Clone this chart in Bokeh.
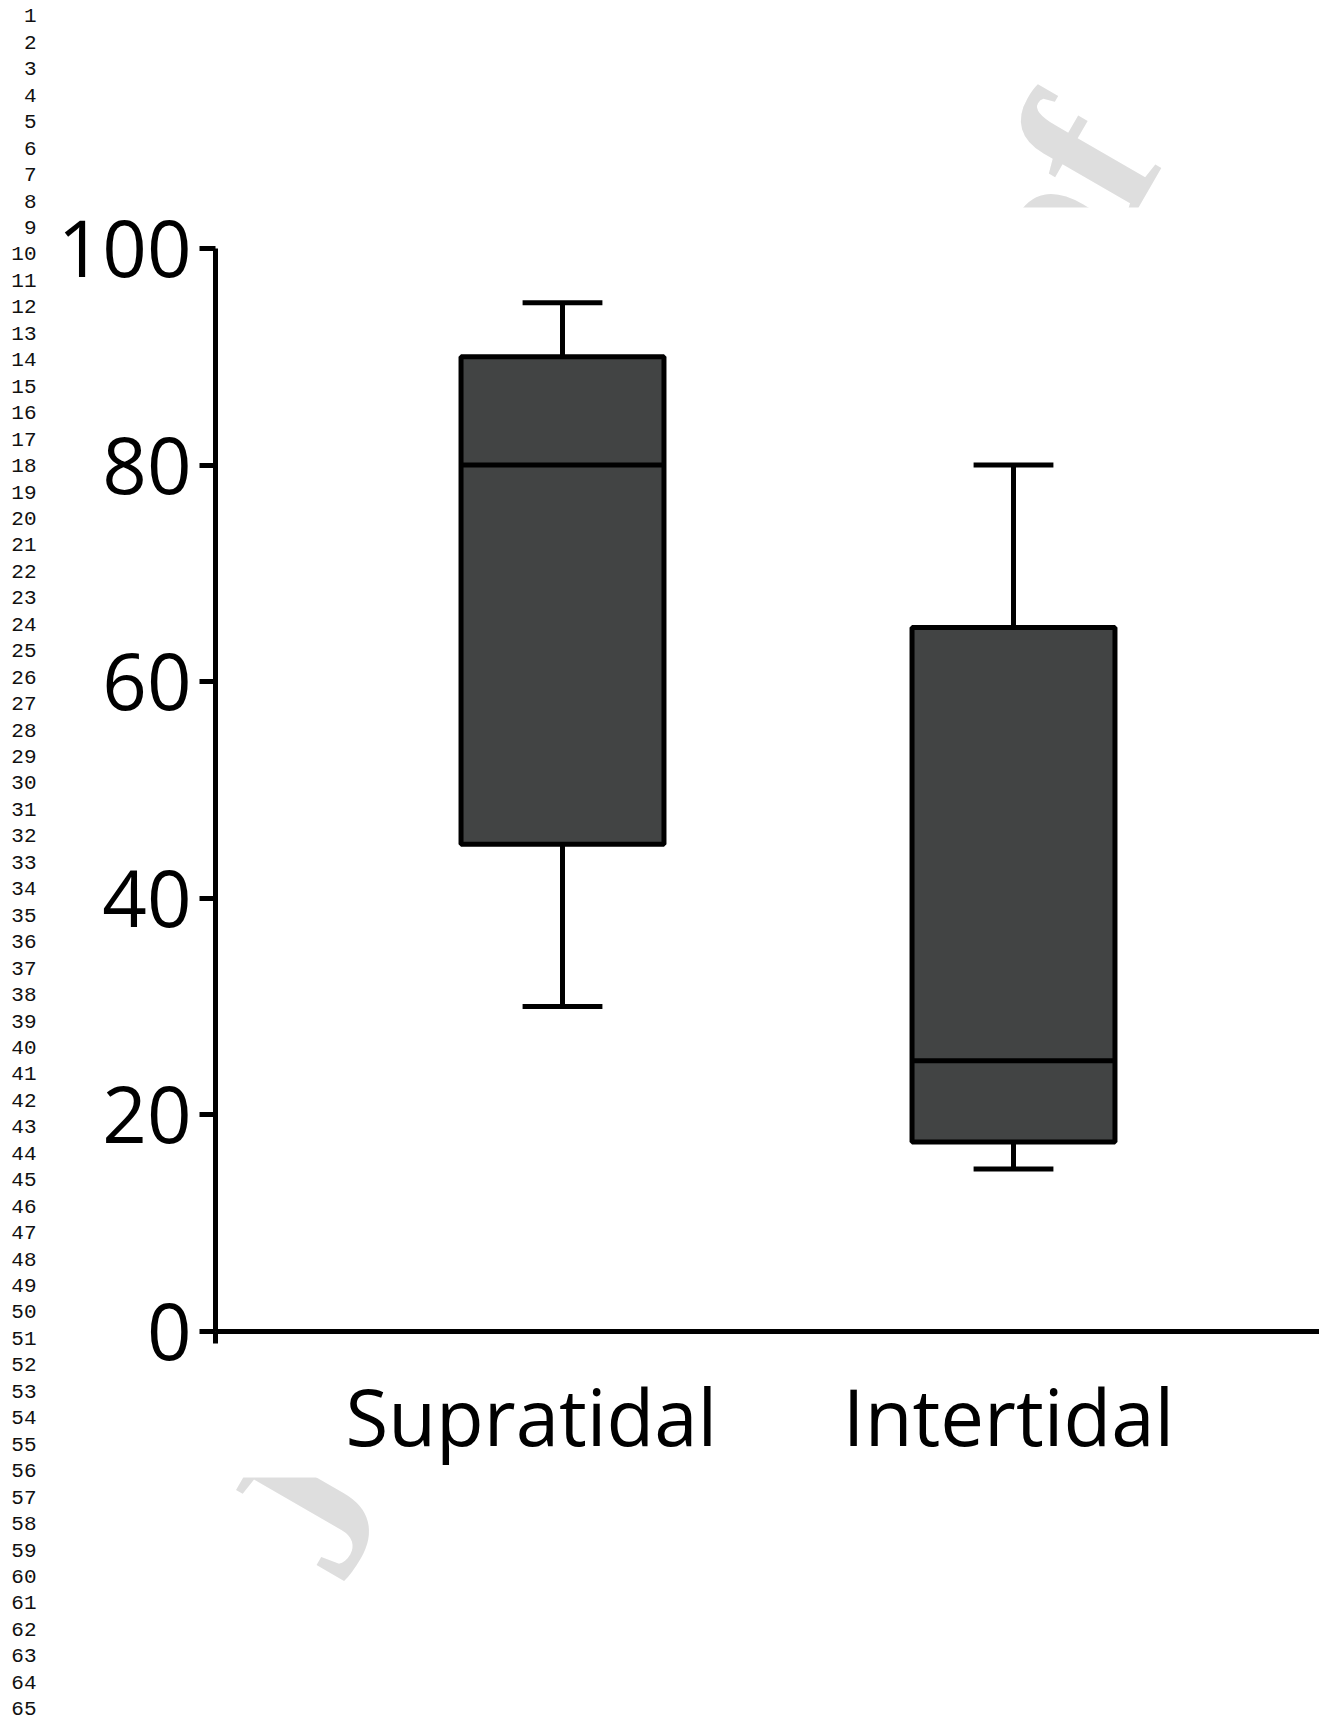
from bokeh.plotting import figure
from bokeh.models import Range1d, FixedTicker, LinearAxis
from bokeh.core.properties import value
from bokeh.embed import file_html
from bokeh.resources import INLINE

# ---------------- data ----------------
categories = ["Supratidal", "Intertidal"]
whisker_low = [30, 15]
q1 = [45, 17.5]
median = [80, 25]
q3 = [90, 65]
whisker_high = [95, 80]
y_ticks = [0, 20, 40, 60, 80, 100]
line_numbers = list(range(1, 66))
watermark_text = "Journal Pre-proof"

# ---------------- styles / layout ----------------
W, H = 1319, 1722
BOX_W = 0.45
CAP_W = 0.177
LW = 5
FILL = "#424444"
FONT = "Open Sans"
X_START, X_END = -1.24612, 1.67849    # full canvas width
Y_START, Y_END = -36.103, 122.899     # full canvas height
Y_AXIS_X = -0.7694                    # where the y axis stands
LABEL_OFFSETS = [-0.069, -0.011]      # category labels sit slightly left of their boxes

pos = list(range(len(categories)))

p = figure(width=W, height=H, x_range=Range1d(X_START, X_END), y_range=Range1d(Y_START, Y_END),
           output_backend="svg", toolbar_location=None, min_border=0,
           x_axis_location=None, y_axis_location=None)
p.grid.visible = False
p.outline_line_color = None
p.background_fill_color = "white"
p.border_fill_color = "white"

# pixel ranges for page decorations
p.extra_x_ranges = {"px": Range1d(0, W)}
p.extra_y_ranges = {"pxy": Range1d(H, 0), "lines": Range1d(65.52, 0.4178)}

# watermark, mostly hidden behind the white chart panel
p.text(x=[277], y=[1553], text=[watermark_text], x_range_name="px", y_range_name="pxy",
       angle=60, angle_units="deg", text_font=value("Liberation Serif"), text_font_style="bold",
       text_font_size="214px", text_color="#dedede", text_align="left", text_baseline="alphabetic")
p.quad(left=[50], right=[W], top=[207], bottom=[1477], x_range_name="px", y_range_name="pxy",
       fill_color="white", line_color=None)

# line numbers
p.text(x=[36] * len(line_numbers), y=line_numbers, text=[str(n) for n in line_numbers],
       x_range_name="px", y_range_name="lines",
       text_align="right", text_baseline="middle", text_font=value("Liberation Mono"),
       text_font_size="21px", text_color="#111111")

# whiskers
p.segment(x0=pos, y0=q3, x1=pos, y1=whisker_high, line_color="black", line_width=LW)
p.segment(x0=pos, y0=whisker_low, x1=pos, y1=q1, line_color="black", line_width=LW)
p.segment(x0=[x - CAP_W / 2 for x in pos], y0=whisker_high, x1=[x + CAP_W / 2 for x in pos],
          y1=whisker_high, line_color="black", line_width=LW)
p.segment(x0=[x - CAP_W / 2 for x in pos], y0=whisker_low, x1=[x + CAP_W / 2 for x in pos],
          y1=whisker_low, line_color="black", line_width=LW)
# boxes
p.vbar(x=pos, width=BOX_W, bottom=q1, top=q3, fill_color=FILL, line_color="black", line_width=LW)
# medians
p.segment(x0=[x - BOX_W / 2 for x in pos], y0=median, x1=[x + BOX_W / 2 for x in pos],
          y1=median, line_color="black", line_width=LW)

# y axis
ya = LinearAxis(fixed_location=Y_AXIS_X, bounds=(y_ticks[0], y_ticks[-1]),
                ticker=FixedTicker(ticks=y_ticks, minor_ticks=[]))
ya.axis_line_width = LW
ya.axis_line_color = "black"
ya.major_tick_line_width = LW
ya.major_tick_out = 16
ya.major_tick_in = 0
ya.major_label_standoff = 8
ya.major_label_text_font = FONT
ya.major_label_text_font_size = "78px"
ya.major_label_text_color = "black"
p.add_layout(ya, "left")

# x axis (category labels)
label_ticks = [x + off for x, off in zip(pos, LABEL_OFFSETS)]
xa = LinearAxis(fixed_location=0, bounds=(Y_AXIS_X, X_END),
                ticker=FixedTicker(ticks=label_ticks, minor_ticks=[Y_AXIS_X]))
xa.major_label_overrides = {t: c for t, c in zip(label_ticks, categories)}
xa.axis_line_width = LW
xa.axis_line_color = "black"
xa.major_tick_line_color = None
xa.major_tick_out = 0
xa.major_tick_in = 0
xa.minor_tick_out = 12
xa.minor_tick_in = 0
xa.minor_tick_line_width = LW
xa.minor_tick_line_color = "black"
xa.major_label_standoff = 19
xa.major_label_text_font = FONT
xa.major_label_text_font_size = "78px"
xa.major_label_text_color = "black"
p.add_layout(xa, "below")

open("out.html", "w").write(file_html(p, INLINE))
